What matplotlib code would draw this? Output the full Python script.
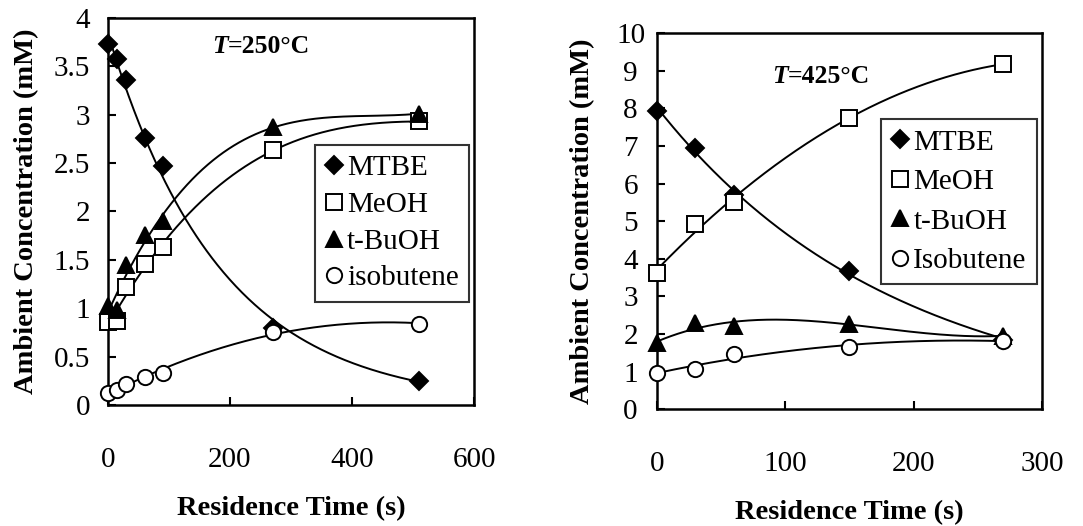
import matplotlib
matplotlib.use("Agg")
import matplotlib.pyplot as plt
import numpy as np

plt.rcParams['font.family'] = ['Liberation Serif', 'DejaVu Serif']

# ---- data: T = 250 C ----
t250 = [0, 15, 30, 60, 90, 270, 510]
mtbe250 = [3.73, 3.58, 3.36, 2.76, 2.47, 0.80, 0.25]
meoh250 = [0.86, 0.87, 1.22, 1.46, 1.63, 2.63, 2.93]
tbuoh250 = [1.02, 0.98, 1.45, 1.76, 1.90, 2.87, 3.01]
isob250 = [0.12, 0.16, 0.22, 0.29, 0.33, 0.75, 0.84]

# ---- data: T = 425 C ----
t425 = [0, 30, 60, 150, 270]
mtbe425 = [7.92, 6.95, 5.7, 3.68, 1.85]
meoh425 = [3.62, 4.93, 5.50, 7.75, 9.18]
tbuoh425 = [1.75, 2.28, 2.22, 2.27, 1.95]
isob425 = [0.97, 1.07, 1.47, 1.66, 1.82]

styles = {
    'MTBE': dict(marker='D', mfc='black', mec='black', ms=9.5),
    'MeOH': dict(marker='s', mfc='white', mec='black', ms=11),
    't-BuOH': dict(marker='^', mfc='black', mec='black', ms=11),
    'iso': dict(marker='o', mfc='white', mec='black', ms=11),
}


def trend(x, y, deg, log=False):
    # trendline fitted through the measured points (exponential or polynomial)
    x = np.asarray(x, float)
    y = np.asarray(y, float)
    xs = np.linspace(x.min(), x.max(), 300)
    if log:
        c = np.polyfit(x, np.log(y), deg)
        return xs, np.exp(np.polyval(c, xs))
    c = np.polyfit(x, y, deg)
    return xs, np.polyval(c, xs)


def panel(ax, t, series, ymax, ystep, xmax, xstep, title, leg_anchor,
          yha, ypad, ylpad, bpad, lspace):
    for name, y, deg, log in series:
        xs, ys = trend(t, y, deg, log)
        ax.plot(xs, ys, color='black', lw=1.4, zorder=2)
        st = styles['iso' if name.lower() == 'isobutene' else name]
        ax.plot(t, y, linestyle='none', mew=1.4, label=name, zorder=3,
                clip_on=False, **st)
    ax.set_xlim(0, xmax)
    ax.set_ylim(0, ymax)
    ax.set_xticks(np.arange(0, xmax + 1, xstep))
    yt = np.arange(0, ymax + 0.001, ystep)
    ax.set_yticks(yt)
    ax.set_yticklabels(['%g' % v for v in yt], ha=yha)
    ax.tick_params(direction='in', length=6, width=1.5, labelsize=21,
                   top=False, right=False)
    ax.tick_params(axis='x', pad=30)
    ax.tick_params(axis='y', pad=ypad)
    for s in ax.spines.values():
        s.set_linewidth(1.8)
    ax.set_xlabel('Residence Time (s)', fontsize=20.5, fontweight='bold', labelpad=17)
    ax.set_ylabel('Ambient Concentration (mM)', fontsize=20.5, fontweight='bold',
                  labelpad=ylpad)
    tx = ax.text(title[0], title[1], 'T', transform=ax.transAxes, fontsize=18.5,
                 fontweight='bold', fontstyle='italic', va='center')
    ax.annotate(title[2], xy=(1, 0.5), xycoords=tx, va='center', ha='left',
                fontsize=18.5, fontweight='bold')
    leg = ax.legend(loc='upper right', bbox_to_anchor=leg_anchor, fontsize=21,
                    frameon=True, fancybox=False, handlelength=0.6,
                    handletextpad=0.15, borderpad=bpad, labelspacing=lspace,
                    borderaxespad=0)
    leg.get_frame().set_edgecolor('black')
    leg.get_frame().set_linewidth(1.5)


fig = plt.figure(figsize=(10.83, 5.26), dpi=100)
ax1 = fig.add_axes([0.0997, 0.230, 0.338, 0.736])
ax2 = fig.add_axes([0.6066, 0.222, 0.3555, 0.715])

panel(ax1, t250,
      [('MTBE', mtbe250, 1, True), ('MeOH', meoh250, 3, False),
       ('t-BuOH', tbuoh250, 3, False), ('isobutene', isob250, 2, False)],
      4, 0.5, 600, 200, (0.285, 0.925, '=250°C'), (0.986, 0.672),
      'right', 13, 10, 0.35, 0.35)
panel(ax2, t425,
      [('MTBE', mtbe425, 1, True), ('MeOH', meoh425, 2, False),
       ('t-BuOH', tbuoh425, 3, False), ('Isobutene', isob425, 2, False)],
      10, 1, 300, 100, (0.298, 0.885, '=425°C'), (0.987, 0.772),
      'center', 19, 15, 0.35, 0.45)

fig.savefig('out.png', dpi=100)
